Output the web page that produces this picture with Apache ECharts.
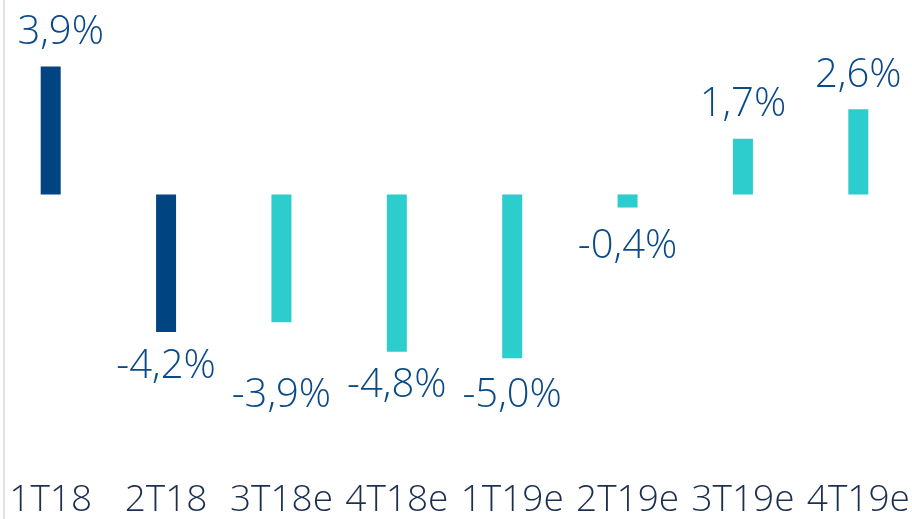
<!DOCTYPE html>
<html>
<head>
<meta charset="utf-8">
<script src="https://cdn.jsdelivr.net/npm/echarts@6/dist/echarts.min.js"></script>
<style>
  html, body { margin: 0; padding: 0; background: #fff; overflow: hidden; }
  /* the category bands run slightly past both page edges, so the canvas is shifted left */
  #chart { width: 923px; height: 519px; margin-left: -7px; }
</style>
</head>
<body>
<div id="chart"></div>
<script>
const categories = ['1T18', '2T18', '3T18e', '4T18e', '1T19e', '2T19e', '3T19e', '4T19e'];
const values = [3.9, -4.2, -3.9, -4.8, -5.0, -0.4, 1.7, 2.6];
// first two quarters are actual figures, the rest are estimates
const actualCount = 2;

const DARK = '#004481';
const LIGHT = '#2dcccd';
const FONT = '"Open Sans", sans-serif';

// small per-label nudges seen in the original
const labelTweaks = {
  '1T18': { offset: [10, 0] },
  '3T18e': { distance: 53 },
  '1T19e': { distance: 17 },
  '2T19e': { distance: 19 },
};

const chart = echarts.init(document.getElementById('chart'));

const seriesData = values.map((v, i) => {
  const label = Object.assign({ position: v < 0 ? 'bottom' : 'top' }, labelTweaks[categories[i]]);
  return {
    value: v,
    itemStyle: { color: i < actualCount ? DARK : LIGHT },
    label: label,
  };
});

chart.setOption({
  animation: false,
  grid: { left: 0, right: 0, top: 0, bottom: 54 },
  xAxis: {
    type: 'category',
    data: categories,
    axisLine: { show: false },
    axisTick: { show: false },
    axisLabel: {
      interval: 0,
      color: '#1c2f50',
      fontFamily: FONT,
      fontWeight: 300,
      fontSize: 37,
      margin: 23,
    },
  },
  yAxis: {
    type: 'value',
    min: -8.07,
    max: 5.93,
    show: false,
  },
  graphic: [
    {
      type: 'line',
      shape: { x1: 11, y1: 0, x2: 11, y2: 519 },
      style: { stroke: '#d9d9d9', lineWidth: 1.5 },
    },
  ],
  series: [
    {
      type: 'bar',
      data: seriesData,
      barWidth: 20,
      label: {
        show: true,
        distance: 14,
        color: '#0b4a88',
        fontFamily: FONT,
        fontWeight: 300,
        fontSize: 40,
        formatter: (p) => p.value.toFixed(1).replace('.', ',') + '%',
      },
    },
  ],
});
</script>
</body>
</html>
